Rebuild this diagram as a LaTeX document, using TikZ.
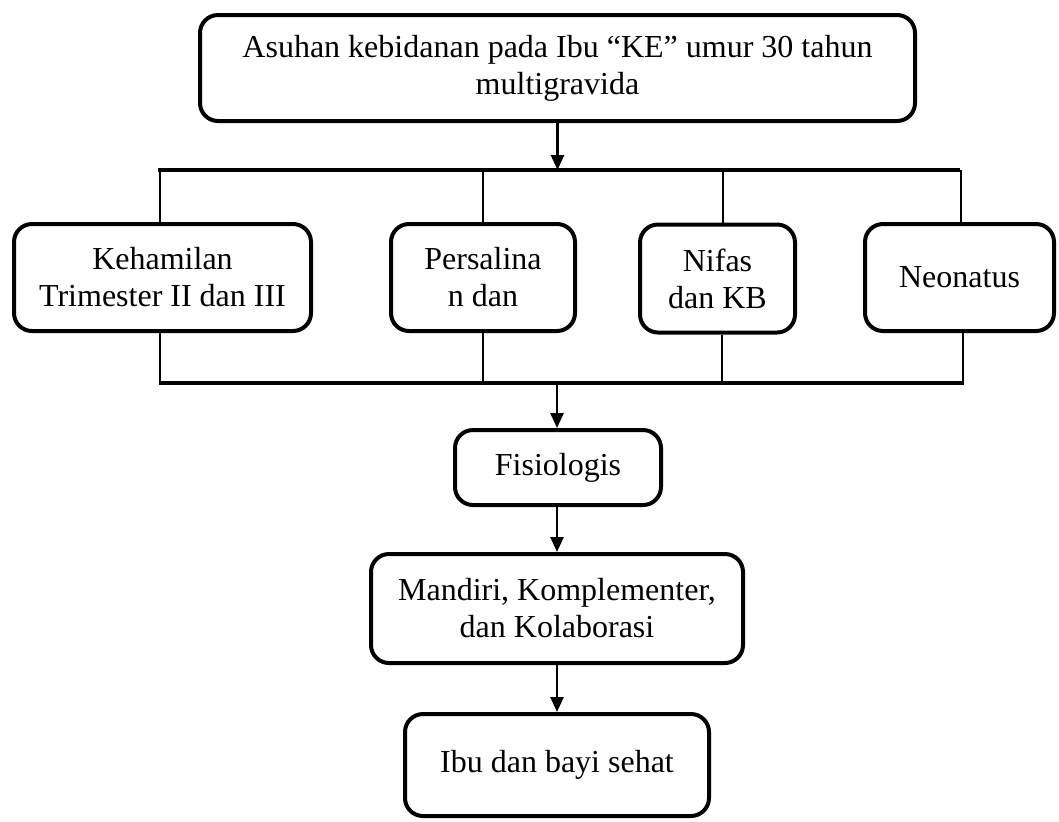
\documentclass[tikz,border=0pt]{standalone}
\usepackage{fontspec}
\setmainfont{Liberation Serif}
\usetikzlibrary{arrows.meta,calc}
\begin{document}
\begin{tikzpicture}[x=0.5pt,y=-0.5pt,
  box/.style={draw, line width=2pt, rounded corners=9pt, inner sep=0pt, align=center,
              font=\fontsize{16}{18.5}\selectfont},
  arr/.style={line width=1.3pt, -{Triangle[width=6.5pt,length=7.5pt]}},
  bar/.style={line width=1.7pt},
  tick/.style={line width=0.9pt}]
\useasboundingbox (0,0) rectangle (1059,821);

\node[box, minimum width=357.5pt, minimum height=53pt] (top) at (557.5,68)
  {Asuhan kebidanan pada Ibu “KE” umur 30 tahun\\multigravida};
\node[box, minimum width=148.5pt, minimum height=53.5pt] (keh) at (162.5,277.5)
  {Kehamilan\\Trimester II dan III};
\node[box, minimum width=92pt, minimum height=53.5pt] (pers) at (483,277.5)
  {Persalina\\n dan};
\node[box, minimum width=77.5pt, minimum height=54pt] (nif) at (717.5,278.5)
  {Nifas\\dan KB};
\node[box, minimum width=94.5pt, minimum height=53.5pt] (neo) at (959.5,277.5)
  {Neonatus};
\node[box, minimum width=103pt, minimum height=37.5pt] (fis) at (558,467.5)
  {Fisiologis};
\node[box, minimum width=186pt, minimum height=54.5pt] (man) at (557,608.5)
  {Mandiri, Komplementer,\\dan Kolaborasi};
\node[box, minimum width=152pt, minimum height=51pt] (ibu) at (557,765)
  {Ibu dan bayi sehat};

% top distribution bar
\coordinate (tl) at (158,170);
\coordinate (tr) at (960,170);
\coordinate (t1) at (160,170);
\coordinate (t2) at (483,170);
\coordinate (t3) at (723,170);
\coordinate (t4) at (961,170);
\draw[arr] (top.south) -- (top.south |- tl);
\draw[bar] (tl) -- (tr);
\draw[tick] (t1) -- (t1 |- keh.north);
\draw[tick] (t2) -- (t2 |- pers.north);
\draw[tick] (t3) -- (t3 |- nif.north);
\draw[tick] (t4) -- (t4 |- neo.north);

% bottom collecting bar
\coordinate (bl) at (159,383);
\coordinate (br) at (964,383);
\coordinate (b1) at (160,383);
\coordinate (b2) at (483,383);
\coordinate (b3) at (722,383);
\coordinate (b4) at (963,383);
\draw[tick] (b1 |- keh.south) -- (b1);
\draw[tick] (b2 |- pers.south) -- (b2);
\draw[tick] (b3 |- nif.south) -- (b3);
\draw[tick] (b4 |- neo.south) -- (b4);
\draw[bar] (bl) -- (br);

\coordinate (bm) at (557,383);
\draw[arr] (bm) -- (bm |- fis.north);
\draw[arr] (fis.south -| bm) -- (man.north);
\draw[arr] (man.south) -- (ibu.north);
\end{tikzpicture}
\end{document}
